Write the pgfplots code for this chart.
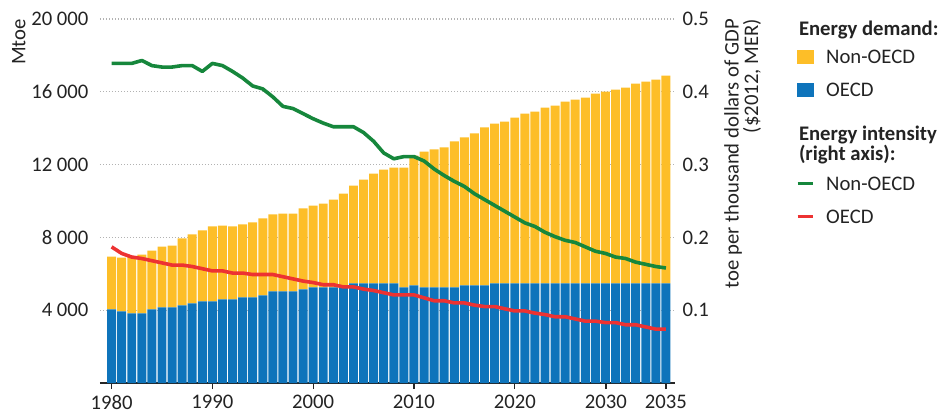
\documentclass[border=0pt]{standalone}
\usepackage{pgfplots}
\pgfplotsset{compat=1.18}
\usepackage{pgfplotstable}
\usepackage{fontspec}
\setmainfont{Carlito}
\definecolor{ieayellow}{RGB}{253,190,40}
\definecolor{ieablue}{RGB}{14,116,187}
\definecolor{ieagreen}{RGB}{22,135,60}
\definecolor{ieared}{RGB}{237,50,50}
\definecolor{txt}{RGB}{35,35,35}

\pgfplotstableread{
year oecd nonoecd io ino
1980 4040 2910 0.187 0.439
1981 3930 2960 0.178 0.439
1982 3820 3150 0.173 0.439
1983 3820 3240 0.171 0.443
1984 4040 3240 0.168 0.436
1985 4150 3350 0.165 0.434
1986 4150 3400 0.162 0.434
1987 4260 3680 0.162 0.436
1988 4370 3790 0.160 0.436
1989 4480 3900 0.157 0.428
1990 4480 4120 0.154 0.439
1991 4590 4060 0.154 0.436
1992 4590 4010 0.151 0.428
1993 4700 4010 0.151 0.419
1994 4700 4120 0.149 0.408
1995 4810 4230 0.149 0.404
1996 5030 4230 0.149 0.393
1997 5030 4280 0.146 0.380
1998 5030 4280 0.143 0.377
1999 5140 4450 0.140 0.370
2000 5250 4500 0.138 0.363
2001 5250 4610 0.135 0.357
2002 5250 4830 0.135 0.352
2003 5360 5050 0.132 0.352
2004 5470 5380 0.132 0.352
2005 5470 5710 0.129 0.344
2006 5470 6040 0.127 0.332
2007 5470 6260 0.124 0.316
2008 5470 6370 0.121 0.308
2009 5250 6590 0.121 0.311
2010 5360 7140 0.121 0.311
2011 5250 7470 0.117 0.305
2012 5250 7580 0.113 0.294
2013 5250 7690 0.113 0.285
2014 5250 8020 0.110 0.277
2015 5360 8130 0.110 0.270
2016 5360 8350 0.107 0.260
2017 5360 8680 0.105 0.252
2018 5470 8780 0.105 0.244
2019 5470 8890 0.102 0.236
2020 5470 9110 0.099 0.228
2021 5470 9330 0.099 0.220
2022 5470 9440 0.096 0.215
2023 5470 9660 0.094 0.207
2024 5470 9770 0.091 0.201
2025 5470 9990 0.091 0.196
2026 5470 10100 0.088 0.193
2027 5470 10210 0.085 0.187
2028 5470 10430 0.085 0.181
2029 5470 10540 0.083 0.178
2030 5470 10650 0.083 0.173
2031 5470 10760 0.080 0.171
2032 5470 10980 0.080 0.166
2033 5470 11090 0.077 0.163
2034 5470 11200 0.074 0.160
2035 5470 11420 0.074 0.158
}\datatable

\begin{document}
\begin{tikzpicture}[font=\fontsize{20.7}{24.8}\selectfont, text=txt]
\path[use as bounding box] (0pt,0pt) rectangle (940pt,-413pt);
\begin{axis}[
  at={(100pt,-383pt)}, anchor=south west,
  scale only axis, width=575pt, height=364pt,
  xmin=1978.85, xmax=2035.9, ymin=0, ymax=20000,
  ybar stacked, bar width=0.89,
  axis x line*=bottom, axis y line*=left,
  y axis line style={draw=none},
  x axis line style={line width=1.5pt, color=black!85},
  xtick={1980,1990,2000,2010,2020,2029.05,2035},
  xticklabels={1980,1990,2000,2010,2020,2030,2035},
  xticklabel style={yshift=-2.5pt},
  tick align=outside, major tick length=6pt,
  xtick style={line width=1.3pt, color=black!85},
  ytick={4000,8000,12000,16000,20000}, ytick style={draw=none},
  scaled y ticks=false,
  ymajorgrids, grid style={dash pattern=on 1.3pt off 1.7pt, line width=1.3pt, color=black!30},
  /pgf/number format/assume math mode=true,
  yticklabel style={/pgf/number format/.cd, fixed, 1000 sep={\hspace{0.22em}}, /tikz/xshift=-2pt},
  ylabel={Mtoe},
  ylabel style={at={(rel axis cs:-0.15304,1)}, anchor=north east, inner sep=0pt},
]
\addplot[fill=ieablue, draw=none] table[x=year, y=oecd] {\datatable};
\addplot[fill=ieayellow, draw=none] table[x=year, y=nonoecd] {\datatable};
\end{axis}
\begin{axis}[
  at={(100pt,-383pt)}, anchor=south west,
  scale only axis, width=575pt, height=364pt,
  xmin=1978.85, xmax=2035.9, ymin=0, ymax=0.5,
  axis x line=none, axis y line*=right,
  y axis line style={draw=none},
  ytick={0.1,0.2,0.3,0.4,0.5}, ytick style={draw=none},
  scaled y ticks=false,
  /pgf/number format/assume math mode=true,
  yticklabel style={/pgf/number format/.cd, fixed, fixed zerofill, precision=1, /tikz/xshift=4pt},
  ylabel={toe per thousand dollars of GDP\\(\$2012, MER)},
  ylabel style={align=right, font=\fontsize{20.7}{18}\selectfont, at={(rel axis cs:1.0852,1)}, anchor=north east, inner sep=0pt},
  legend style={at={(axis description cs:1.21043,0.99313)}, anchor=north west,
    draw=none, fill=none, inner sep=0pt, outer sep=0pt,
    row sep=0pt, column sep=11.5pt,
    nodes={inner sep=0pt, text height=13.5pt, text depth=5pt},
    cells={anchor=base west}},
]
\addplot[ieagreen, line width=3.6pt, line join=round, no marks, forget plot] table[x=year, y=ino] {\datatable};
\addplot[ieared, line width=3.6pt, line join=round, no marks, forget plot] table[x=year, y=io] {\datatable};

\addlegendimage{empty legend}
\addlegendentry[text depth=14.8pt]{\hspace*{-27.2pt}\textbf{Energy demand:}}
\addlegendimage{legend image code/.code={\fill[ieayellow] (0pt,0pt) rectangle (15.7pt,13.3pt);}}
\addlegendentry[text depth=19.8pt]{Non-OECD}
\addlegendimage{legend image code/.code={\fill[ieablue] (0pt,0pt) rectangle (15.7pt,13.3pt);}}
\addlegendentry[text depth=29.9pt]{OECD}
\addlegendimage{empty legend}
\addlegendentry[text depth=6.5pt]{\hspace*{-27.2pt}\textbf{Energy intensity}}
\addlegendimage{empty legend}
\addlegendentry[text depth=16.5pt]{\hspace*{-27.2pt}\textbf{(right axis):}}
\addlegendimage{legend image code/.code={\draw[ieagreen, line width=3pt] (0pt,6.7pt) -- (15.7pt,6.7pt);}}
\addlegendentry[text depth=19.8pt]{Non-OECD}
\addlegendimage{legend image code/.code={\draw[ieared, line width=3pt] (0pt,6.7pt) -- (15.7pt,6.7pt);}}
\addlegendentry[text depth=5pt]{OECD}
\end{axis}
\end{tikzpicture}
\end{document}
